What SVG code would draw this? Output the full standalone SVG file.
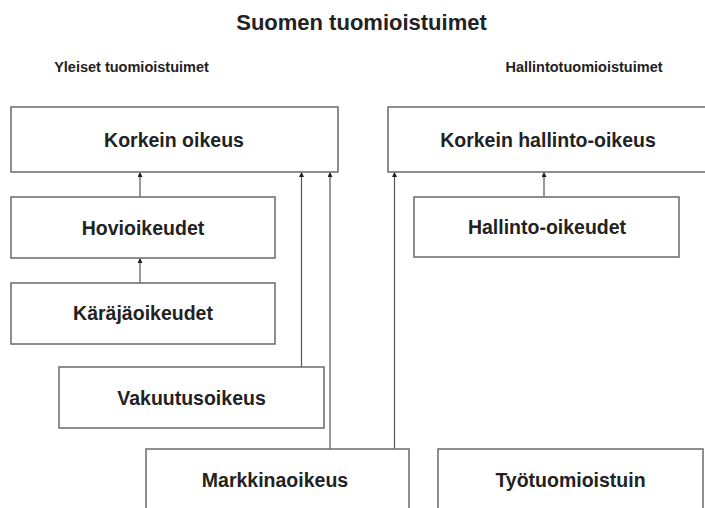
<svg xmlns="http://www.w3.org/2000/svg" width="705" height="508" viewBox="0 0 705 508">
<style>
  .box{fill:#fff;stroke:#6a6a6a;stroke-width:1.5}
  .lbl{font-family:"Liberation Sans",Arial,sans-serif;font-weight:bold;font-size:19.5px;fill:#222;text-anchor:middle}
  .hdr{font-family:"Liberation Sans",Arial,sans-serif;font-weight:bold;font-size:14.5px;fill:#222;text-anchor:middle}
  .ttl{font-family:"Liberation Sans",Arial,sans-serif;font-weight:bold;font-size:22px;fill:#222;text-anchor:middle}
  .conn{stroke:#555;stroke-width:1.2;fill:none;marker-end:url(#ah)}
</style>
<defs>
  <marker id="ah" markerWidth="5" markerHeight="5" refX="4" refY="2.5" orient="auto" markerUnits="userSpaceOnUse">
    <path d="M0,0 L5,2.5 L0,5 z" fill="#222"/>
  </marker>
</defs>
<rect width="705" height="508" fill="#fff"/>
<text class="ttl" x="361.5" y="30">Suomen tuomioistuimet</text>
<text class="hdr" x="131.5" y="72">Yleiset tuomioistuimet</text>
<text class="hdr" x="584" y="72">Hallintotuomioistuimet</text>

<g id="connectors">
  <line class="conn" x1="140" y1="197" x2="140" y2="173"/>
  <line class="conn" x1="140" y1="283" x2="140" y2="259"/>
  <line class="conn" x1="301.5" y1="367" x2="301.5" y2="173"/>
  <line class="conn" x1="330" y1="449" x2="330" y2="173"/>
  <line class="conn" x1="394.5" y1="449" x2="394.5" y2="173"/>
  <line class="conn" x1="544" y1="197" x2="544" y2="173"/>
</g>

<g id="korkein-oikeus">
  <rect class="box" x="11" y="107" width="327" height="65"/>
  <text class="lbl" x="174" y="147">Korkein oikeus</text>
</g>
<g id="korkein-hallinto-oikeus">
  <rect class="box" x="388" y="107" width="320" height="65"/>
  <text class="lbl" x="548" y="147">Korkein hallinto-oikeus</text>
</g>
<g id="hovioikeudet">
  <rect class="box" x="11" y="197" width="264" height="61"/>
  <text class="lbl" x="143" y="235">Hovioikeudet</text>
</g>
<g id="hallinto-oikeudet">
  <rect class="box" x="414" y="197" width="265" height="60"/>
  <text class="lbl" x="547" y="234">Hallinto-oikeudet</text>
</g>
<g id="karajaoikeudet">
  <rect class="box" x="11" y="283" width="264" height="61"/>
  <text class="lbl" x="143" y="320">Käräjäoikeudet</text>
</g>
<g id="vakuutusoikeus">
  <rect class="box" x="59" y="367" width="265" height="61"/>
  <text class="lbl" x="191.5" y="405">Vakuutusoikeus</text>
</g>
<g id="markkinaoikeus">
  <rect class="box" x="146" y="449" width="263" height="70"/>
  <text class="lbl" x="275" y="487">Markkinaoikeus</text>
</g>
<g id="tyotuomioistuin">
  <rect class="box" x="438" y="449" width="265" height="70"/>
  <text class="lbl" x="570.5" y="487">Työtuomioistuin</text>
</g>
</svg>
